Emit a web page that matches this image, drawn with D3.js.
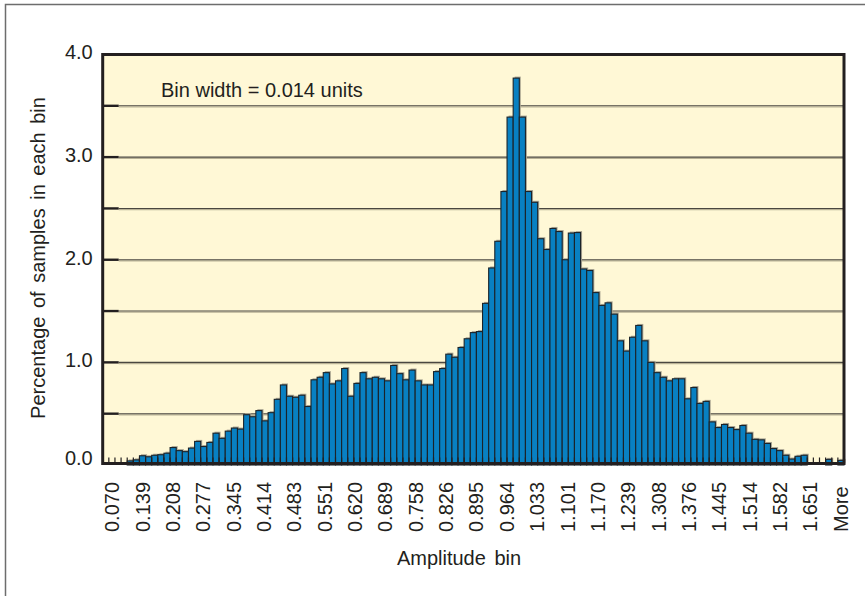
<!DOCTYPE html>
<html>
<head>
<meta charset="utf-8">
<script src="https://cdn.jsdelivr.net/npm/d3@7"></script>
<style>
    body{margin:0;background:#fff}
    svg{display:block}
    text{font-family:"Liberation Sans",Arial,sans-serif;fill:#231f20}
</style>
</head>
<body>
<div id="chart"></div>
<script>

// percentage of samples per amplitude bin (121 bins, last one is "More")
var binValues=[0,0,0,0,0.04,0.05,0.09,0.08,0.095,0.10,
               0.115,0.17,0.14,0.13,0.165,0.23,0.18,0.22,0.31,0.26,
               0.33,0.36,0.35,0.49,0.47,0.53,0.43,0.51,0.64,0.78,
               0.67,0.66,0.68,0.57,0.83,0.855,0.90,0.79,0.82,0.94,
               0.67,0.795,0.90,0.84,0.855,0.84,0.82,0.97,0.89,0.83,
               0.925,0.82,0.78,0.78,0.91,0.94,1.08,1.05,1.145,1.23,
               1.29,1.30,1.575,1.92,2.18,2.665,3.39,3.77,3.39,2.665,
               2.56,2.205,2.10,2.305,2.275,2.00,2.26,2.265,1.91,1.895,
               1.68,1.555,1.58,1.47,1.21,1.11,1.245,1.36,1.21,1.00,
               0.90,0.855,0.82,0.84,0.84,0.645,0.755,0.60,0.62,0.42,
               0.365,0.395,0.365,0.345,0.385,0.31,0.25,0.245,0.21,0.16,
               0.14,0.095,0.058,0.085,0.095,0,0,0,0.055,0,
               0.045];

// labels shown under the bins (one every 5 bins)
var tickLabels=["0.070","0.139","0.208","0.277","0.345","0.414","0.483","0.551","0.620","0.689",
                "0.758","0.826","0.895","0.964","1.033","1.101","1.170","1.239","1.308","1.376",
                "1.445","1.514","1.582","1.651","More"];

var yLabels=[0,1,2,3,4];
var yGrid=[0.5,1,1.5,2,2.5,3,3.5];

function init(){
    var W=865,H=596;
    var left=102.7,right=844,top=54.5,bottom=465;

    var svg=d3.select("#chart").append("svg").attr("width",W).attr("height",H);

    //outer frame (only top and left visible)
    svg.append("rect").attr("x",5.5).attr("y",4.5).attr("width",900).attr("height",700)
                      .style("fill","none").style("stroke","#6d6d6d").style("stroke-width",1.5);

    var x=d3.scaleBand().domain(d3.range(binValues.length)).range([left,right]).padding(0);
    var y=d3.scaleLinear().domain([0,4]).range([bottom,top]);
    // the printed labels are spaced a bit tighter than the bins
    var xl=d3.scalePoint().domain(tickLabels).range([112,840.5]);

    //---------------------------------------------------------------------------------------------------------//
    //                                                 PLOT AREA                                               //
    //---------------------------------------------------------------------------------------------------------//
    svg.append("rect").attr("x",left).attr("y",top).attr("width",right-left).attr("height",463.5-top)
                      .style("fill","#fff8d6");

    var grid=svg.append("g").attr("id","grid");
    grid.selectAll(".gshadow").data(yGrid).enter().append("line").attr("class","gshadow")
        .attr("x1",left+16).attr("x2",right).attr("y1",function(d){return y(d)+1.2}).attr("y2",function(d){return y(d)+1.2})
        .style("stroke","#b9b296").style("stroke-width",1.2);
    grid.selectAll(".gline").data(yGrid).enter().append("line").attr("class","gline")
        .attr("x1",left+16).attr("x2",right).attr("y1",function(d){return y(d)}).attr("y2",function(d){return y(d)})
        .style("stroke","#4a4740").style("stroke-width",1.1);

    //BARS
    var bw=x.bandwidth();
    var bars=svg.append("g").attr("id","bars");
    bars.selectAll(".shadow").data(binValues).enter().append("rect").attr("class","shadow")
        .attr("x",function(d,i){return x(i)+1.5}).attr("y",function(d){return y(d)-1.5})
        .attr("width",bw).attr("height",function(d){return Math.max(0,y(0)-y(d))})
        .style("fill","#aaa592");
    bars.selectAll(".bar").data(binValues).enter().append("rect").attr("class","bar")
        .attr("x",function(d,i){return x(i)}).attr("y",function(d){return y(d)})
        .attr("width",bw).attr("height",function(d){return y(0)-y(d)})
        .style("fill","#0880c2").style("stroke","#1b2329").style("stroke-width",1.1);

    //category ticks (inside, at bin boundaries)
    svg.append("g").selectAll("line").data(d3.range(1,binValues.length)).enter().append("line")
        .attr("x1",function(i){return x(i)}).attr("x2",function(i){return x(i)})
        .attr("y1",463).attr("y2",457.5)
        .style("stroke","#231f20").style("stroke-width",1.2);

    //value ticks (inside)
    svg.append("g").selectAll("line").data(yGrid).enter().append("line")
        .attr("x1",left).attr("x2",left+16).attr("y1",function(d){return y(d)}).attr("y2",function(d){return y(d)})
        .style("stroke","#231f20").style("stroke-width",2.4);

    //frame
    svg.append("rect").attr("x",left).attr("y",top).attr("width",right-left).attr("height",463.5-top)
        .style("fill","none").style("stroke","#231f20").style("stroke-width",3);

    //---------------------------------------------------------------------------------------------------------//
    //                                                   AXES                                                  //
    //---------------------------------------------------------------------------------------------------------//
    var yAxis=svg.append("g").attr("transform","translate("+left+",0)")
        .call(d3.axisLeft(y).tickValues(yLabels).tickFormat(d3.format(".1f")).tickSize(0).tickPadding(10));
    yAxis.select(".domain").remove();
    yAxis.selectAll("text").style("font-size","20px").style("fill","#231f20")
        .attr("dy",function(d){return d==0?"-0.05em":"0.22em"});

    svg.append("g").selectAll("text").data(tickLabels).enter().append("text")
        .attr("transform",function(d){return "translate("+xl(d)+",532) rotate(-90)"})
        .attr("dy","0.36em").style("font-size","20px")
        .text(function(d){return d});

    //TITLES
    svg.append("text").attr("x",459).attr("y",565).attr("text-anchor","middle").style("font-size","20px")
        .style("word-spacing","3px").text("Amplitude bin");
    svg.append("text").attr("transform","translate(45,258) rotate(-90)").attr("text-anchor","middle")
        .style("font-size","20px").style("word-spacing","3px").text("Percentage of samples in each bin");
    svg.append("text").attr("x",161).attr("y",97).style("font-size","20px").text("Bin width = 0.014 units");
}
init();
</script>
</body>
</html>
